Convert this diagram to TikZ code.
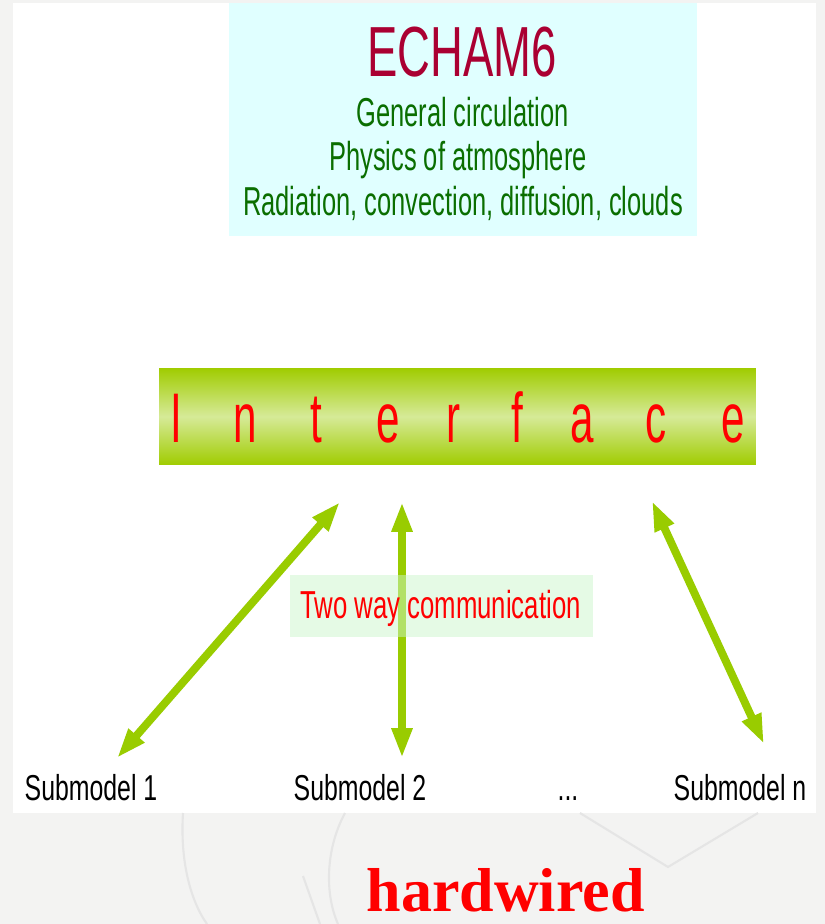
\documentclass[tikz,border=0pt]{standalone}
\usepackage{fontspec}
\setmainfont{Liberation Sans}
\newfontfamily\hwfont{Liberation Serif}
\usepackage{graphicx}
\usepackage{xcolor}
\usepackage{tikz}
\usetikzlibrary{arrows.meta}

\definecolor{slidegrey}{RGB}{243,243,242}
\definecolor{ghostgrey}{RGB}{229,229,229}
\definecolor{cyanbg}{RGB}{224,255,255}
\definecolor{echamred}{RGB}{170,0,50}
\definecolor{physgreen}{RGB}{10,110,0}
\definecolor{bargreen}{RGB}{160,204,0}
\definecolor{barlight}{RGB}{214,234,152}
\definecolor{linkgreen}{RGB}{153,204,0}
\definecolor{commbg}{RGB}{204,246,204}

% squeeze text horizontally
\newcommand{\squeeze}[2]{\scalebox{#1}[1]{#2}}

\tikzset{
  echambox/.style={fill=cyanbg, minimum width=9.36cm, minimum height=4.66cm, inner sep=0},
  ifacebar/.style={top color=bargreen, bottom color=bargreen, middle color=barlight,
                   minimum width=11.94cm, minimum height=1.94cm, inner sep=0},
  commbox/.style={fill=commbg, fill opacity=0.5, minimum width=6.06cm, minimum height=1.24cm, inner sep=0},
  basetext/.style={inner sep=0, anchor=base},
  titletext/.style={basetext, text=echamred, font=\fontsize{40.4}{48}\selectfont},
  phystext/.style={basetext, text=physgreen, font=\fontsize{23}{28}\selectfont},
  ifaceletter/.style={basetext, text=red, font=\fontsize{40}{48}\selectfont},
  commtext/.style={basetext, text=red, font=\fontsize{22.2}{27}\selectfont},
  subtext/.style={basetext, text=black, font=\fontsize{20.5}{25}\selectfont},
  hwtext/.style={basetext, text=red, font=\hwfont\bfseries\fontsize{35.3}{42}\selectfont},
  link/.style={{Triangle[length=17pt,width=11pt]}-{Triangle[length=17pt,width=11pt]},
               line width=4.5pt, draw=linkgreen},
  ghost/.style={draw=ghostgrey, line width=1.2pt}
}

\begin{document}
\begin{tikzpicture}[x=0.02cm, y=-0.02cm]
    \useasboundingbox (0,0) rectangle (825,924);

    % slide background
    \fill[slidegrey] (0,0) rectangle (825,924);
    \fill[white] (13,3) rectangle (816,813);
    \draw[ghost] (183,813) .. controls (180,860) and (190,900) .. (207,924);
    \draw[ghost] (345,813) .. controls (325,850) and (325,895) .. (338,924);
    \draw[ghost] (303,876) -- (320,924);
    \draw[ghost] (580,813) -- (668,867) -- (758,813);

    % ECHAM6 box
    \node[echambox] (echam) at (463,119.5) {};
    \node[titletext] (title) at (462,76) {\squeeze{0.64}{ECHAM6}};
    \node[phystext] (line1) at (462.5,126) {\squeeze{0.63}{General circulation}};
    \node[phystext] (line2) at (458,170) {\squeeze{0.63}{Physics of atmosphere}};
    \node[phystext] (line3) at (463,215) {\squeeze{0.63}{Radiation, convection, diffusion, clouds}};

    % Interface bar
    \node[ifacebar] (iface) at (457.5,416.5) {};
    \foreach \ch/\xx in {I/176, n/245, t/316, e/388, r/454, f/517, a/582, c/656, e/733}
        \node[ifaceletter] (letter-\xx) at (\xx,442) {\squeeze{0.6}{\ch}};

    % two way arrows
    \coordinate (end1) at (117,758);
    \coordinate (top1) at (340,502);
    \coordinate (end2) at (402,758);
    \coordinate (top2) at (402,502);
    \coordinate (endn) at (764,744);
    \coordinate (topn) at (652,501);
    \draw[link] (end1) -- (top1);
    \draw[link] (end2) -- (top2);
    \draw[link] (endn) -- (topn);

    % label over the arrows
    \node[commbox] (comm) at (441.5,606) {};
    \node[commtext] (commlabel) at (440.5,618) {\squeeze{0.66}{Two way communication}};

    % submodels
    \node[subtext] (sub1) at (91,800) {\squeeze{0.69}{Submodel 1}};
    \node[subtext] (sub2) at (360,800) {\squeeze{0.69}{Submodel 2}};
    \node[subtext] (dots) at (568,800) {\squeeze{0.69}{...}};
    \node[subtext] (subn) at (740,800) {\squeeze{0.69}{Submodel n}};

    \node[hwtext] (hw) at (505.5,911) {hardwired};
\end{tikzpicture}
\end{document}
